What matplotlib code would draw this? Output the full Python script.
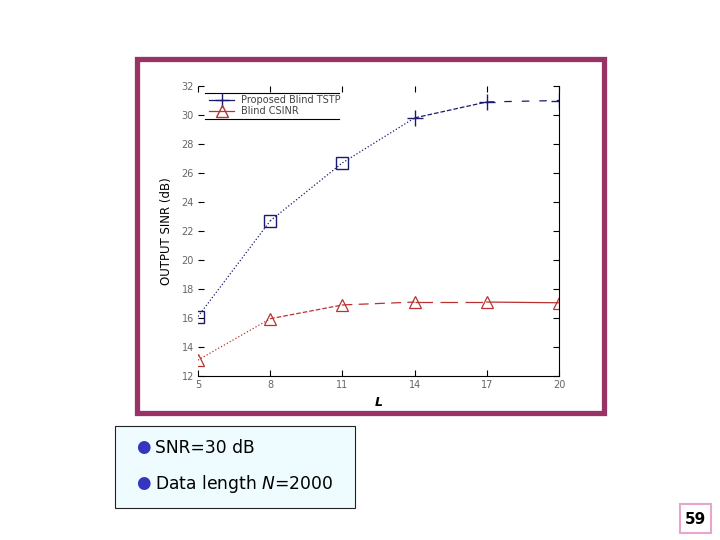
import numpy as np
import matplotlib
matplotlib.use('Agg')
from matplotlib import pyplot as plt
from matplotlib.patches import Rectangle
from matplotlib.lines import Line2D

# data
L = [5, 8, 11, 14, 17, 20]
tstp = [16.1, 22.7, 26.7, 29.8, 30.9, 31.0]
csinr = [13.1, 15.95, 16.9, 17.1, 17.1, 17.05]
xticks = [5, 8, 11, 14, 17, 20]
yticks = [12, 14, 16, 18, 20, 22, 24, 26, 28, 30, 32]

blue = '#1a1a6e'
red = '#b83232'
purple = '#993366'

fig = plt.figure(figsize=(7.2, 5.4), dpi=100)
fig.patch.set_facecolor('white')

# purple frame around the chart
fig.patches.append(Rectangle((136.5/720, 1-413/540), 467/720, 354/540,
                             transform=fig.transFigure, fill=False,
                             edgecolor=purple, linewidth=3.8, zorder=0))

ax = fig.add_axes([198/720, 1-376/540, 361/720, 290/540])

# segment styles mimic the old matlab rendering
bstyles = [':', ':', ':', '--', (0, (6, 8))]
rstyles = [':', '--', (0, (8, 5)), (0, (14, 6)), '-']
for i in range(len(L)-1):
    ax.plot(L[i:i+2], tstp[i:i+2], color=blue, lw=0.9, linestyle=bstyles[i])
    ax.plot(L[i:i+2], csinr[i:i+2], color=red, lw=0.9, linestyle=rstyles[i])
ax.plot(L[:3], tstp[:3], linestyle='none', marker='s', ms=8, mfc='none', mec=blue, mew=1)
ax.plot(L[3:], tstp[3:], linestyle='none', marker='+', ms=11, mec=blue, mew=1)
ax.plot(L, csinr, linestyle='none', marker='^', ms=9, mfc='none', mec=red, mew=0.9)

ax.set_xlim(5, 20)
ax.set_ylim(12, 32)
ax.set_xticks(xticks)
ax.set_yticks(yticks)
ax.tick_params(direction='in', length=4, labelsize=7, labelcolor='#666666',
               top=True, right=True, pad=3)
ax.spines['left'].set_visible(False)
ax.spines['top'].set_visible(False)
ax.set_ylabel('OUTPUT SINR (dB)', fontsize=8.5, labelpad=6)
ax.set_xlabel('L', fontsize=9, fontstyle='italic', fontweight='bold', labelpad=4)

h1 = Line2D([], [], color=blue, lw=0.9, marker='+', ms=10)
h2 = Line2D([], [], color=red, lw=0.9, marker='^', ms=8, mfc='none')
leg = ax.legend([h1, h2], ['Proposed Blind TSTP', 'Blind CSINR'], loc='upper left',
                bbox_to_anchor=(0.01, 0.995), frameon=False, fontsize=7,
                handlelength=2.5, labelspacing=0.1, borderpad=0.3)
for t in leg.get_texts():
    t.set_color('#444444')
ax.add_line(Line2D([0.02, 0.39], [0.975, 0.975], transform=ax.transAxes, color='k', lw=0.8))
ax.add_line(Line2D([0.02, 0.39], [0.885, 0.885], transform=ax.transAxes, color='k', lw=0.8))

# note box
fig.patches.append(Rectangle((115/720, 1-508/540), 240/720, 82/540,
                             transform=fig.transFigure, facecolor='#eefcff',
                             edgecolor='#222222', linewidth=0.8))
for yy in [447, 483]:
    fig.text(143/720, 1-yy/540, '\u25cf', color='#3535c0', fontsize=12,
             ha='center', va='center')
fig.text(155/720, 1-448/540, 'SNR=30 dB', fontsize=12.3, va='center')
fig.text(155/720, 1-484/540, 'Data length $\\it{N}$=2000', fontsize=12.3, va='center')

# page number
fig.patches.append(Rectangle((680/720, 1-533/540), 31/720, 29/540,
                             transform=fig.transFigure, fill=False,
                             edgecolor='#e8a6cc', linewidth=1.5))
fig.text(695.5/720, 1-519/540, '59', fontsize=11, fontweight='bold',
         ha='center', va='center')

plt.savefig('out.png', dpi=100)
